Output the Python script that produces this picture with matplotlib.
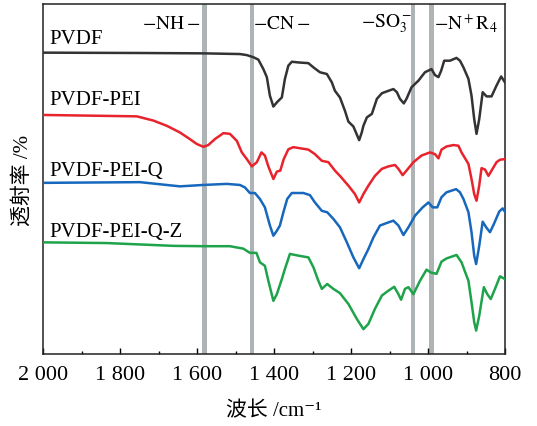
import matplotlib
matplotlib.use("Agg")
import matplotlib.pyplot as plt
from matplotlib.ticker import MultipleLocator, FixedLocator

plt.rcParams['font.family'] = ['Liberation Serif', 'Noto Sans CJK SC', 'DejaVu Serif']
plt.rcParams['mathtext.fontset'] = 'stix'

# ---- data (wavenumber cm-1, relative transmittance) ----
pvdf_w = [2000, 1749, 1585, 1489, 1471, 1454, 1441, 1428, 1419, 1411, 1402, 1392, 1380, 1372, 1363,
          1354, 1337, 1311, 1298, 1281, 1263, 1250, 1242, 1229, 1216, 1207, 1194, 1179, 1172, 1168,
          1159, 1146, 1133, 1120, 1103, 1090, 1081, 1073, 1063, 1056, 1043, 1025, 1008, 991, 982,
          973, 966, 958, 943, 926, 917, 908, 895, 887, 880, 874, 867, 858, 848, 835, 822, 810, 800]
pvdf_t = [86.1, 86.0, 85.9, 85.7, 85.4, 84.8, 84.1, 81.4, 79.1, 73.8, 70.7, 72.0, 73.3, 78.6, 82.4,
          83.5, 83.3, 83.1, 81.9, 80.5, 80.0, 77.6, 75.2, 73.3, 69.5, 66.4, 65.0, 61.1, 63.4, 65.2,
          67.6, 68.6, 72.9, 74.5, 75.2, 75.7, 74.8, 72.9, 71.6, 72.9, 76.2, 78.1, 80.5, 81.4, 79.7,
          79.1, 80.9, 83.8, 83.8, 84.6, 83.8, 81.9, 78.6, 73.8, 67.1, 62.9, 67.1, 74.8, 73.6, 73.6,
          76.7, 79.3, 77.6]

pei_w = [2000, 1879, 1757, 1714, 1679, 1645, 1619, 1601, 1584, 1571, 1554, 1532, 1515, 1497, 1484,
         1471, 1458, 1445, 1433, 1424, 1415, 1402, 1393, 1384, 1375, 1363, 1350, 1311, 1294, 1276,
         1259, 1242, 1229, 1207, 1190, 1179, 1168, 1155, 1138, 1120, 1103, 1086, 1077, 1066, 1056,
         1038, 1017, 995, 982, 973, 965, 952, 934, 921, 913, 895, 887, 880, 874, 867, 861, 852, 843,
         835, 822, 813, 800]
pei_t = [68.3, 68.1, 67.9, 66.7, 65.2, 63.3, 61.4, 60.0, 59.2, 59.7, 61.4, 63.1, 62.9, 60.9, 57.6,
         55.7, 53.6, 54.8, 57.6, 56.7, 53.6, 50.0, 52.1, 52.4, 55.7, 58.5, 59.1, 58.4, 57.1, 55.2,
         54.8, 52.4, 50.9, 48.1, 45.7, 43.3, 45.7, 48.1, 50.9, 52.9, 53.6, 54.0, 52.9, 51.1, 52.4,
         54.8, 56.7, 57.6, 57.1, 55.9, 58.4, 59.3, 59.7, 59.5, 57.6, 54.3, 50.0, 45.7, 43.8, 48.1,
         53.1, 52.7, 50.9, 52.4, 54.8, 55.5, 55.7]

q_w = [2000, 1749, 1645, 1584, 1523, 1489, 1476, 1463, 1450, 1437, 1424, 1411, 1402, 1393, 1385,
       1376, 1366, 1354, 1324, 1307, 1294, 1276, 1262, 1246, 1229, 1211, 1194, 1179, 1168, 1155,
       1142, 1125, 1108, 1090, 1077, 1064, 1051, 1034, 1014, 999, 988, 976, 965, 952, 927, 917,
       908, 895, 887, 880, 875, 867, 858, 849, 839, 829, 815, 806, 800]
q_t = [48.9, 49.1, 47.9, 48.3, 48.6, 48.3, 47.6, 46.0, 46.0, 44.3, 41.9, 36.7, 33.8, 35.2, 36.7,
       40.5, 44.3, 46.0, 46.0, 45.4, 43.3, 40.9, 40.5, 38.6, 36.2, 31.9, 27.6, 24.5, 27.1, 30.0,
       33.3, 36.7, 37.4, 38.1, 36.7, 34.0, 36.2, 39.5, 41.9, 43.3, 41.9, 41.9, 44.8, 46.2, 47.1, 46.2,
       44.3, 40.5, 34.8, 28.1, 25.7, 30.9, 37.8, 36.2, 34.8, 37.1, 40.7, 41.6, 40.6]

qz_w = [2000, 1835, 1662, 1584, 1515, 1480, 1463, 1446, 1437, 1424, 1415, 1402, 1393, 1380, 1372,
        1359, 1337, 1311, 1298, 1285, 1276, 1262, 1246, 1229, 1207, 1185, 1168, 1155, 1138, 1120,
        1103, 1088, 1077, 1070, 1060, 1051, 1038, 1021, 1004, 993, 978, 965, 952, 926, 913, 895,
        887, 880, 875, 867, 855, 846, 837, 826, 813, 800]
qz_t = [31.9, 31.7, 30.9, 30.8, 30.8, 30.1, 28.9, 28.9, 26.2, 25.2, 20.9, 15.2, 17.1, 21.4, 24.3,
        28.6, 28.1, 27.6, 24.8, 20.9, 18.6, 20.0, 18.6, 17.4, 14.3, 10.0, 7.1, 8.6, 12.9, 16.7,
        18.1, 19.2, 17.1, 15.5, 18.6, 19.1, 17.1, 20.9, 24.1, 23.3, 22.9, 26.4, 27.3, 28.3, 26.2, 20.9,
        14.8, 9.1, 6.7, 10.9, 19.1, 17.1, 15.7, 18.6, 22.2, 21.4]

series_names = ['PVDF', 'PVDF-PEI', 'PVDF-PEI-Q', 'PVDF-PEI-Q-Z']
series_colors = ['#333333', '#e8232c', '#1768bd', '#1ea34b']
label_pos_t = [90.0, 72.6, 52.3, 35.1]

band_centers = [1581, 1458, 1039, 991]
group_labels = [r'$\mathrm{-NH-}$', r'$\mathrm{-CN-}$', r'$\mathrm{-SO_3^-}$', r'$\mathrm{-N^+R_4}$']
group_label_w = [1668, 1380, 1107, 901]

xticks = [2000, 1800, 1600, 1400, 1200, 1000, 800]
xtick_labels = ['2 000', '1 800', '1 600', '1 400', '1 200', '1 000', '800']

# ---- figure ----
fig = plt.figure(figsize=(5.37, 4.27), dpi=100)
ax = fig.add_axes([0.0806, 0.1686, 0.8598, 0.8197])

for c in band_centers:
    ax.axvspan(c - 6, c + 6, color='#aeb3b6', lw=0, zorder=1)

for w, t, col in zip([pvdf_w, pei_w, q_w, qz_w], [pvdf_t, pei_t, q_t, qz_t], series_colors):
    ax.plot(w, t, color=col, lw=1.8, zorder=3)

for name, ty in zip(series_names, label_pos_t):
    ax.text(1983, ty, name, ha='left', va='center', fontsize=15, zorder=4)

for lab, wx in zip(group_labels, group_label_w):
    ax.text(wx, 94.5, lab, ha='center', va='center', fontsize=14, zorder=4)

ax.set_xlim(2000, 800)
ax.set_ylim(0, 100)
ax.xaxis.set_major_locator(FixedLocator(xticks))
ax.set_xticklabels(xtick_labels, fontsize=16)
ax.xaxis.set_minor_locator(MultipleLocator(100))
ax.tick_params(axis='x', which='major', direction='in', length=4.5, width=1, pad=8)
ax.tick_params(axis='x', which='minor', direction='in', length=2.5, width=1)
ax.set_yticks([])
for s in ax.spines.values():
    s.set_linewidth(1.1)
    s.set_color('#222222')

ax.set_xlabel('波长 /cm⁻¹', fontsize=15, labelpad=12)
ax.set_ylabel('透射率 /%', fontsize=15, labelpad=8)

fig.savefig('out.png', dpi=100)
